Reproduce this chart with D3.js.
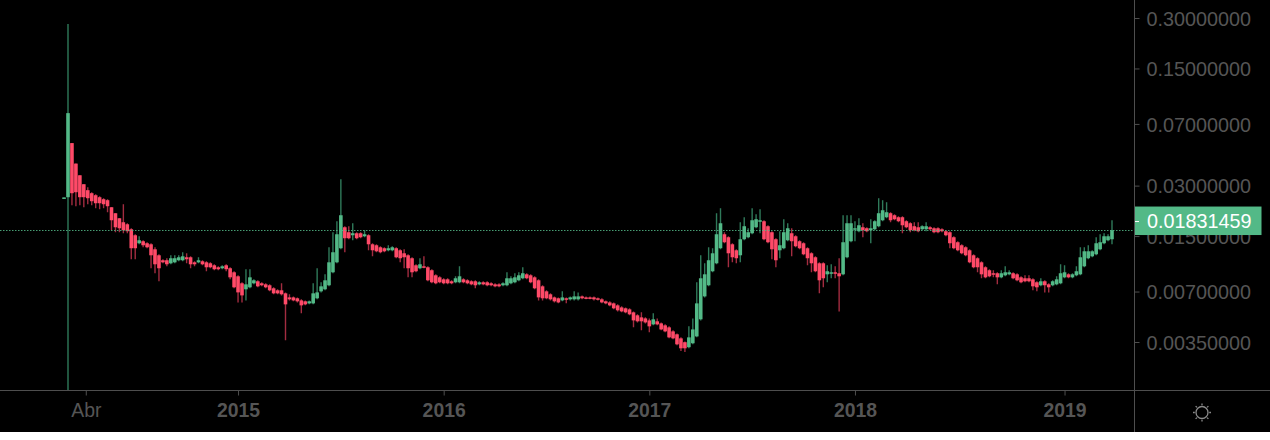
<!DOCTYPE html>
<html><head><meta charset="utf-8">
<script src="https://cdn.jsdelivr.net/npm/d3@7"></script>
<style>html,body{margin:0;padding:0;background:#fff;overflow:hidden}svg{display:block}text{font-family:"Liberation Sans",Arial,sans-serif}</style>
</head><body><div id="c"></div>
<script>
// prices in units of 0.00001; the first entry is the week before weekIndex 0
const priceUnit = 0.00001;
const open = [2530,2558,
5380,4060,3458,3058,2817,2703,2629,2558,2489,2455,
2229,2053,1916,1814,1764,1647,1517,1359,1397,1359,
1340,1251,1152,1076,1076,1032,1046,1076,1076,1121,
1121,1046,1046,1061,1046,1032,1004,977,964,1004,
964,912,863,784,722,742,784,806,784,773,
763,732,712,712,683,646,646,638,620,612,
595,595,638,702,722,763,912,1046,1269,1693,
1581,1517,1559,1559,1496,1517,1340,1322,1286,1269,
1234,1234,1269,1234,1184,1152,1106,1004,964,990,
977,938,875,851,828,828,806,795,795,828,
817,806,806,773,795,795,784,773,773,763,
763,784,795,817,840,887,875,851,817,752,
702,674,646,638,620,638,629,629,629,655,
646,646,646,638,629,612,603,595,579,563,
556,548,526,505,491,484,471,446,465,452,
440,428,405,389,368,349,326,344,378,478,
655,763,925,1032,1269,1538,1476,1340,1234,1152,
1436,1476,1559,1693,1839,1839,1717,1581,1436,1234,
1269,1416,1559,1496,1397,1359,1269,1184,1121,1032,
1032,887,900,912,900,887,1121,1397,1647,1603,
1693,1670,1625,1647,1717,1864,1943,2053,1997,1943,
1943,1839,1789,1717,1693,1647,1647,1693,1670,1670,
1647,1603,1581,1476,1378,1322,1286,1234,1152,1106,
1046,977,938,900,900,851,875,887,900,887,
851,840,840,828,795,763,806,773,763,773,
784,851,887,851,875,887,990,1106,1136,1168,
1251,1359,1416,1436];
const close = [2550,8120,
2703,2740,2558,2558,2523,2421,2355,2355,2323,2260,
1864,1693,1670,1625,1603,1269,1269,1416,1322,1286,
1152,1018,964,1046,1018,1106,1106,1121,1136,1091,
1018,1018,1076,1018,977,977,951,951,990,951,
851,742,692,664,773,851,817,752,763,742,
712,683,683,674,587,629,620,612,579,587,
612,683,692,752,817,1046,1201,1538,1997,1456,
1456,1559,1456,1476,1538,1340,1234,1217,1201,1217,
1269,1286,1121,1106,1121,964,912,925,1018,977,
817,795,784,795,784,784,784,840,863,795,
784,773,763,795,773,763,763,752,752,784,
840,840,851,875,900,840,795,732,646,638,
638,629,612,603,646,629,646,655,655,638,
638,638,629,629,603,595,579,556,541,533,
526,512,471,465,465,458,434,478,446,416,
405,373,368,339,321,321,373,416,595,840,
887,1076,1184,1538,1789,1378,1184,1121,1106,1436,
1717,1581,1864,1890,1864,1436,1378,1251,1076,1322,
1581,1670,1397,1304,1269,1168,1106,1032,925,817,
840,925,912,900,863,1378,1789,1789,1670,1740,
1625,1603,1670,1839,2053,2139,2081,1864,1890,1839,
1740,1693,1625,1625,1603,1717,1717,1647,1581,1581,
1603,1517,1359,1269,1234,1184,1152,1046,977,977,
887,851,863,887,851,900,912,912,840,817,
795,806,806,752,742,806,763,742,806,828,
900,912,851,887,925,1121,1217,1217,1217,1359,
1378,1496,1496,1625];
const high = [2550,27620,
5380,4060,3458,3058,2935,2740,2666,2593,2523,2489,
2229,2053,1916,2323,1789,1670,1538,1496,1416,1378,
1359,1286,1168,1091,1106,1152,1152,1152,1201,1184,
1136,1061,1121,1076,1061,1046,1018,990,1004,1018,
977,925,875,795,951,951,828,817,795,784,
773,742,722,784,692,674,655,646,629,620,
620,784,964,795,887,1286,1581,1839,3277,1717,
1717,1789,1581,1581,1625,1538,1359,1340,1304,1286,
1322,1304,1286,1251,1251,1168,1121,1018,1106,1136,
990,951,887,863,840,840,817,863,990,840,
828,817,817,806,806,806,795,784,784,795,
912,863,900,912,977,900,887,863,828,763,
712,683,655,646,702,646,655,702,692,664,
655,655,655,646,638,620,612,603,587,571,
563,556,533,512,526,491,484,519,484,458,
446,434,411,394,373,353,434,484,795,1152,
1032,1286,1269,2053,2199,1581,1496,1359,1251,1814,
1943,1670,2199,2025,2169,1864,1740,1603,1456,1603,
1890,1789,1670,1517,1416,1378,1286,1201,1136,1046,
1046,1004,1018,990,1106,1997,1997,1997,1839,1916,
1789,1693,1890,1864,2523,2455,2388,2081,2025,1970,
1970,1864,1814,1814,1814,1740,1814,1717,1693,1693,
1670,1625,1603,1496,1397,1340,1304,1251,1168,1121,
1061,990,951,938,912,938,990,938,912,900,
863,875,875,840,806,840,817,784,817,863,
1018,1004,900,900,990,1286,1286,1322,1234,1476,
1538,1559,1538,1864];
const low = [2530,180,
2291,2260,2291,2229,2323,2291,2199,2169,2199,2081,
1625,1581,1581,1559,1559,1091,1091,1340,1286,1269,
964,900,806,1032,990,1018,1032,1061,1061,1032,
964,990,1032,1004,925,964,938,938,951,925,
828,732,603,603,620,732,773,742,752,732,
702,674,674,664,358,620,612,603,519,579,
587,587,629,692,712,752,900,1032,1251,1201,
1436,1416,1436,1456,1476,1234,1136,1201,1184,1201,
1217,1217,1106,1046,964,851,851,912,951,964,
806,784,773,784,773,773,773,784,784,784,
773,763,732,763,763,752,752,742,742,752,
752,773,784,806,828,828,784,722,620,620,
629,620,603,595,612,595,620,620,620,629,
629,629,620,620,595,587,571,548,533,526,
519,505,428,458,411,452,400,440,440,411,
400,368,363,335,309,305,321,339,373,471,
646,752,912,1018,1251,1359,977,1046,1032,1046,
1416,1456,1538,1670,1559,1416,1359,1091,977,1106,
1251,1397,1136,1286,1251,1152,1004,912,912,683,
742,795,840,840,533,875,1106,1378,1397,1581,
1476,1581,1359,1625,1693,1839,1916,1814,1864,1814,
1559,1670,1581,1603,1581,1625,1603,1625,1559,1559,
1581,1496,1269,1251,1217,1168,1136,1032,964,912,
840,840,851,851,773,840,863,875,828,806,
784,795,795,712,702,752,692,692,752,763,
773,840,840,840,863,875,977,1091,1121,1152,
1234,1340,1397,1340];

const priceTicks = [0.3,0.15,0.07,0.03,0.015,0.007,0.0035];
const lastPrice = 0.01831459;
const linePrice = 0.01625;
const timeTickWeeks = [4.5,43,95,147,199,252];
const timeTickLabels = ["Abr","2015","2016","2017","2018","2019"];

const W=1270,H=432,axisX=1134.5,axisY=390.5;
const up="#53b987",down="#ff4a68",upWick="#2f7a5a",downWick="#a32c40",grey="#4e4e4e",txt="#555";

const x=d3.scaleLinear().domain([0,264]).range([68,1112]);
const y=d3.scaleLog().domain([0.3,0.0035]).range([18,342]);

const svg=d3.select("#c").append("svg").attr("width",W).attr("height",H).style("background","#000");
svg.append("defs").append("clipPath").attr("id","plot").append("rect")
  .attr("x",0).attr("y",0).attr("width",axisX).attr("height",axisY);

const weeks=d3.range(open.length);
const g=svg.append("g").attr("clip-path","url(#plot)");
const cx=i=>x(i-1);
const isUp=i=>close[i]>=open[i];

g.selectAll("line.wick").data(weeks).join("line").attr("class","wick")
  .attr("x1",i=>cx(i)).attr("x2",i=>cx(i))
  .attr("y1",i=>y(high[i]*priceUnit)).attr("y2",i=>y(low[i]*priceUnit))
  .attr("stroke",i=>isUp(i)?upWick:downWick).attr("stroke-width",1.4);
g.selectAll("rect.body").data(weeks).join("rect").attr("class","body")
  .attr("x",i=>cx(i)-1.8).attr("width",3.6)
  .attr("y",i=>y(Math.max(open[i],close[i])*priceUnit))
  .attr("height",i=>Math.max(1.5,y(Math.min(open[i],close[i])*priceUnit)-y(Math.max(open[i],close[i])*priceUnit)))
  .attr("fill",i=>isUp(i)?up:down);

g.append("line").attr("x1",0).attr("x2",axisX).attr("y1",Math.round(y(linePrice))+0.5).attr("y2",Math.round(y(linePrice))+0.5)
  .attr("stroke",up).attr("stroke-opacity",0.85).attr("stroke-dasharray","1.5 1.5");

// axes
const yAxis=svg.append("g").attr("transform",`translate(${axisX},0)`)
  .call(d3.axisRight(y).tickValues(priceTicks).tickFormat(d3.format(".8f")).tickSize(5).tickPadding(7));
yAxis.select(".domain").remove();
yAxis.selectAll("line").attr("stroke",grey);
yAxis.selectAll("text").attr("fill",txt).style("font-size","19.8px").attr("font-family",null).attr("dy","0.36em");

const xAxis=svg.append("g").attr("transform",`translate(0,${axisY})`)
  .call(d3.axisBottom(x).tickValues(timeTickWeeks).tickFormat((d,i)=>timeTickLabels[i]).tickSize(5).tickPadding(8));
xAxis.select(".domain").remove();
xAxis.selectAll("line").attr("stroke",grey);
xAxis.selectAll("text").attr("fill",txt).attr("font-family",null)
  .style("font-size","19.4px").style("font-weight",(d,i)=>i===0?"normal":"bold");

svg.append("line").attr("x1",0).attr("x2",W).attr("y1",axisY).attr("y2",axisY).attr("stroke",grey);
svg.append("line").attr("x1",axisX).attr("x2",axisX).attr("y1",0).attr("y2",H).attr("stroke",grey);

// last price label
const ly=y(lastPrice);
svg.append("rect").attr("x",1135).attr("y",ly-15).attr("width",126.5).attr("height",28.5).attr("fill",up);
svg.append("line").attr("x1",1135).attr("x2",1139).attr("y1",ly).attr("y2",ly).attr("stroke","#fff");
svg.append("text").attr("x",1147).attr("y",ly-0.5).attr("dy","0.34em").attr("fill","#fff").style("font-size","19.8px")
  .text(d3.format(".8f")(lastPrice));

// theme (sun) icon
const sun=svg.append("g").attr("transform","translate(1202,412.5)").attr("stroke","#8a8a8a").attr("fill","none").attr("stroke-width",1.3);
sun.append("circle").attr("r",6);
d3.range(8).forEach(k=>{
  const a=k*Math.PI/4;
  sun.append("line").attr("x1",7.2*Math.cos(a)).attr("y1",7.2*Math.sin(a)).attr("x2",9*Math.cos(a)).attr("y2",9*Math.sin(a));
});
</script></body></html>
